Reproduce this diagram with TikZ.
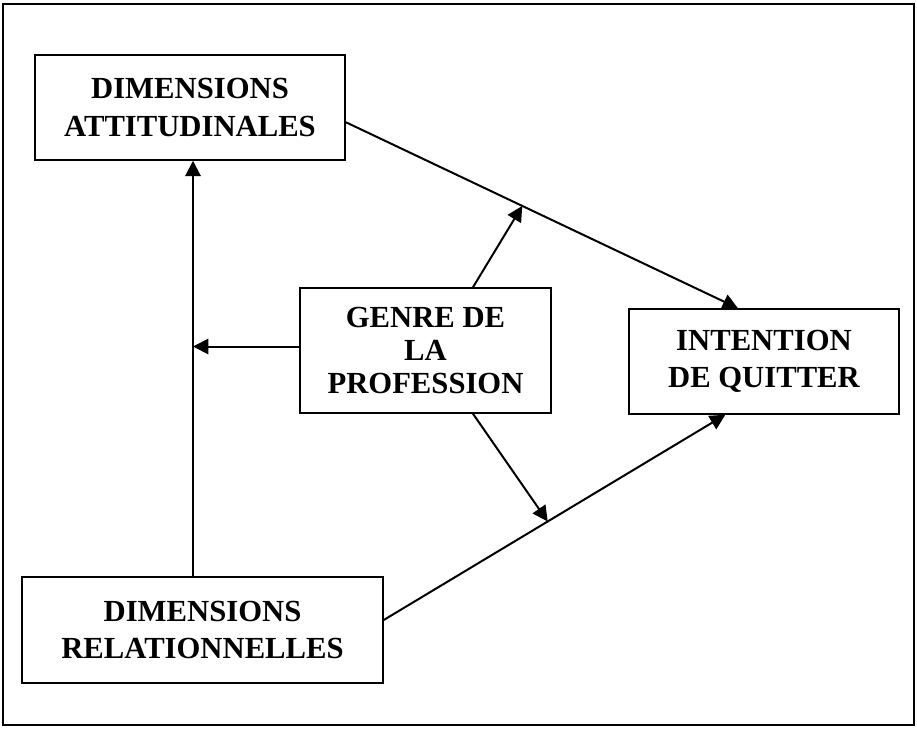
\documentclass[tikz,border=0pt]{standalone}
\usepackage{fontspec}
\setmainfont{Liberation Serif}
\usetikzlibrary{arrows.meta,calc}
\begin{document}
\begin{tikzpicture}[x=0.75pt,y=-0.75pt,
  boite/.style={draw,line width=1.1pt,align=center,inner sep=0pt,
    font=\bfseries\fontsize{23}{28}\selectfont},
  fleche/.style={line width=1.5pt,-{Triangle[length=11.5pt,width=11.5pt]}}]
\useasboundingbox (0,0) rectangle (917,728);
\draw[line width=1.1pt] (3,4) rectangle (914,725);

% les quatre boites
\node[boite,minimum width=232.5pt,minimum height=78.75pt] (att) at (190,107.5) {DIMENSIONS\\ATTITUDINALES};
\node[boite,minimum width=188.25pt,minimum height=93.75pt,
  font=\bfseries\fontsize{23}{25}\selectfont] (gen) at (425.5,350.5) {GENRE DE\\LA\\PROFESSION};
\node[boite,minimum width=202.5pt,minimum height=78.75pt] (int) at (764,361.5) {INTENTION\\DE QUITTER};
\node[boite,minimum width=270.75pt,minimum height=79.5pt] (rel) at (202.5,630) {DIMENSIONS\\RELATIONNELLES};

\coordinate (v) at (193,0);
\coordinate (a1) at ([yshift=-11pt]att.east);
\coordinate (i1) at ([xshift=-19.5pt]int.north);
\coordinate (r1) at ([yshift=7.5pt]rel.east);
\coordinate (i2) at ([xshift=-29pt]int.south);

\draw[fleche] (a1) -- (i1);
\draw[fleche] (r1) -- (i2);
\draw[fleche] (rel.north -| v) -- (att.south -| v);
\draw[fleche] ([yshift=3pt]gen.west) -- ([yshift=3pt]gen.west -| v);
\draw[fleche] ([xshift=35.6pt]gen.north) -- ($(a1)!0.45!(i1)$);
\draw[fleche] ([xshift=35.6pt]gen.south) -- ($(r1)!0.48!(i2)$);
\end{tikzpicture}
\end{document}
